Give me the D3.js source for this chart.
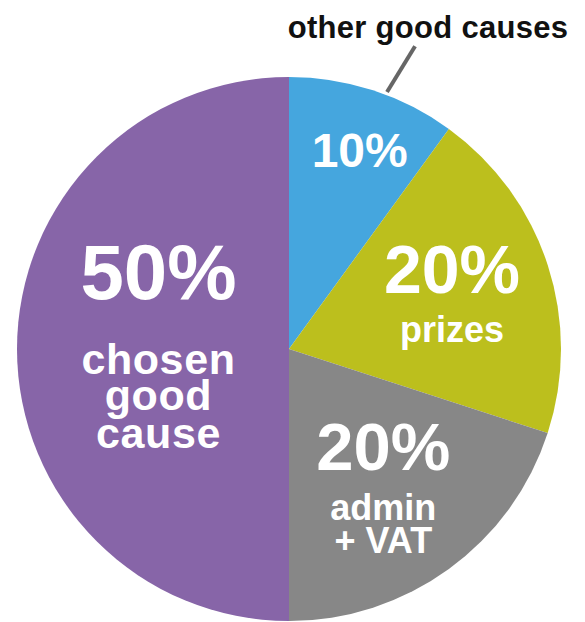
<!DOCTYPE html>
<html>
<head>
<meta charset="utf-8">
<script src="https://cdn.jsdelivr.net/npm/d3@7"></script>
<style>
  body { margin: 0; background: #fff; }
  text { font-family: "Liberation Sans", Arial, Helvetica, sans-serif; font-weight: bold; }
</style>
</head>
<body>
<div id="chart"></div>
<script>
var categories = ["other good causes", "prizes", "admin + VAT", "chosen good cause"];
var shares = [10, 20, 20, 50];
var labelLines = [
    ["10%"],
    ["20%", "prizes"],
    ["20%", "admin", "+ VAT"],
    ["50%", "chosen", "good", "cause"]
];
var colors = ["#45a6de", "#bcbf1d", "#878787", "#8765a8"];

var width = 585, height = 622;
var cx = 289, cy = 349, radius = 272;

// where each label block sits (fraction of radius), nudge, and line layout
var labelRadius = [0.77, 0.63, 0.64, 0.48];
var labelNudge = [6, 0, -8, 0];
var lineDy = [[17], [-3, 46], [-20, 30, 63], [-50, 25, 61, 99]];
var lineSize = [[48], [68, 36], [67, 36, 36], [78, 43, 43, 43]];
var lineSpacing = [[0], [0, 0], [0, 0, 0], [0, 0.6, 0.6, 0.6]];

var svg = d3.select("#chart")
    .append("svg")
    .attr("width", width)
    .attr("height", height);

var g = svg.append("g")
    .attr("transform", "translate(" + cx + "," + cy + ")");

var pie = d3.pie().sort(null).value(function (d) { return d; });
var arcs = pie(shares);

var arc = d3.arc().innerRadius(0).outerRadius(radius);

g.selectAll("path.slice")
    .data(arcs)
    .enter().append("path")
    .attr("class", "slice")
    .attr("d", arc)
    .style("fill", function (d, i) { return colors[i]; });

// labels inside slices
arcs.forEach(function (d, i) {
    var r = radius * labelRadius[i];
    var a = (d.startAngle + d.endAngle) / 2;
    var x = Math.sin(a) * r + labelNudge[i], y = -Math.cos(a) * r;
    labelLines[i].forEach(function (line, j) {
        g.append("text")
            .attr("x", x)
            .attr("y", y + lineDy[i][j])
            .attr("text-anchor", "middle")
            .style("fill", "#fff")
            .style("font-size", lineSize[i][j] + "px")
            .style("letter-spacing", lineSpacing[i][j] + "px")
            .text(line);
    });
});

// leader line + outside label for the small slice
var leadAngle = arcs[0].startAngle + (arcs[0].endAngle - arcs[0].startAngle) * 0.58;
g.append("line")
    .attr("x1", Math.sin(leadAngle) * (radius + 3))
    .attr("y1", -Math.cos(leadAngle) * (radius + 3))
    .attr("x2", Math.sin(leadAngle + 0.03) * (radius + 56))
    .attr("y2", -Math.cos(leadAngle + 0.03) * (radius + 56))
    .style("stroke", "#666")
    .style("stroke-width", 4);

svg.append("text")
    .attr("x", 428)
    .attr("y", 38)
    .attr("text-anchor", "middle")
    .style("fill", "#111")
    .style("font-size", "31px")
    .style("letter-spacing", "0.3px")
    .text(categories[0]);
</script>
</body>
</html>
